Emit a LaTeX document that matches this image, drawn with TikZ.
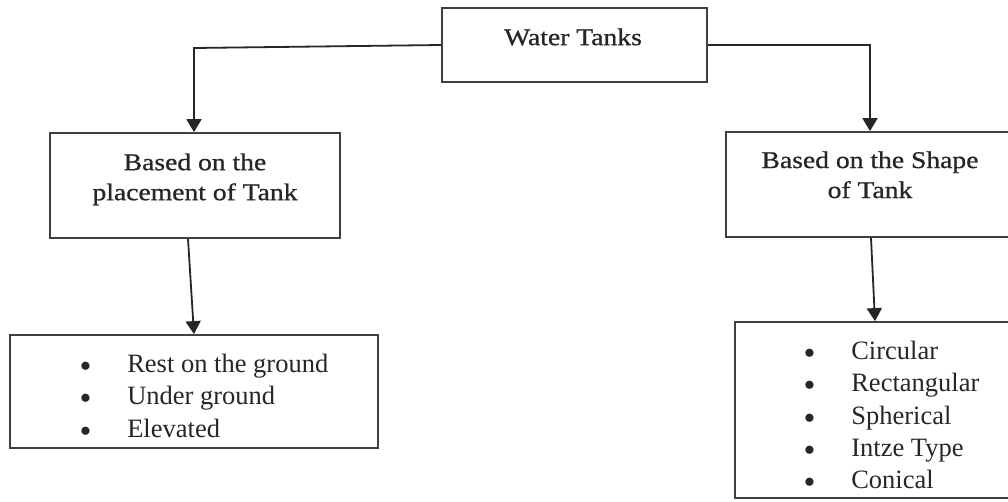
\documentclass[tikz,border=0pt]{standalone}
\usepackage{fontspec}
\setmainfont{Liberation Serif}
\newfontfamily\hdr[FakeStretch=1.15,FakeBold=0.9]{Liberation Serif}
\usetikzlibrary{arrows.meta}
\newcommand{\bul}{\makebox[47.6pt][l]{\smash{\raisebox{-5pt}{\fontsize{34}{34}\selectfont\textbullet}}}}
\begin{document}
\begin{tikzpicture}[x=1pt,y=-1pt,
  box/.style={draw=black!75, line width=1.8pt, inner sep=0pt},
  conn/.style={draw=black!85, line width=1.8pt, -{Triangle[width=15pt,length=13pt]}},
  hd/.style={font=\hdr\fontsize{24}{30}\selectfont, align=center, text=black!85, inner sep=0pt},
  lst/.style={font=\fontsize{26.5}{32.3}\selectfont, align=left, anchor=north west, text=black!85, inner sep=0pt}]
\useasboundingbox (0,0) rectangle (1008,501);
% boxes
\node[box, minimum width=265pt, minimum height=74pt] (top) at (574.5,45) {};
\node[box, minimum width=290pt, minimum height=105pt] (b2) at (195,185.5) {};
\node[box, minimum width=294pt, minimum height=105pt] (b3) at (873,184.5) {};
\node[box, minimum width=368pt, minimum height=113pt] (bl) at (194,391.5) {};
\node[box, minimum width=285pt, minimum height=176pt] (b4) at (877.5,410) {};
% texts
\node[hd] (ttop) at (573,37) {Water Tanks};
\node[hd] (tb2) at (195,179.4) {Based on the\\placement of Tank};
\node[hd] (tb3) at (870,174.8) {Based on the Shape\\of Tank};
\node[lst] (ll) at (79.5,354) {\bul Rest on the ground\\\bul Under ground\\\bul Elevated};
\node[lst] (lr) at (803.5,341) {\bul Circular\\\bul Rectangular\\\bul Spherical\\\bul Intze Type\\\bul Conical};
% connectors
\coordinate (c1) at (194,48);
\coordinate (c2) at (870,45);
\draw[conn] (top.west) -- (c1) -- (c1 |- b2.north);
\draw[conn] (top.east) -- (c2) -- (c2 |- b3.north);
\draw[conn] ([xshift=-7pt]b2.south) -- (bl.north);
\draw[conn] ([xshift=-2pt]b3.south) -- ([xshift=-2.5pt]b4.north);
\end{tikzpicture}
\end{document}
